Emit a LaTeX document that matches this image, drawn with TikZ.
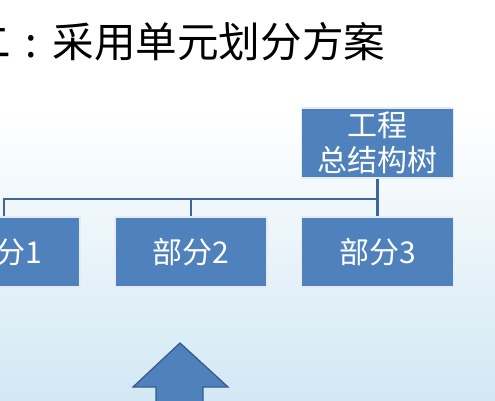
\documentclass[tikz,border=0pt]{standalone}
\usepackage{fontspec}
\setmainfont{Noto Sans CJK SC}
\usetikzlibrary{backgrounds}
\definecolor{boxblue}{RGB}{79,129,189}
\definecolor{linkblue}{RGB}{62,102,155}
\definecolor{edgeblue}{RGB}{56,93,140}
\definecolor{bgblue}{RGB}{210,232,244}
\tikzset{
  part/.style={fill=boxblue, draw=white!85!boxblue, line width=1.5pt,
    minimum width=152pt, minimum height=70pt, inner sep=0pt,
    text=white, font=\fontsize{30}{35}\selectfont, align=center},
  link/.style={draw=linkblue, line width=2.8pt}
}
\begin{document}
\begin{tikzpicture}[x=1pt,y=-1pt]
  \useasboundingbox (0,0) rectangle (495,400);
  \clip (0,0) rectangle (495,400);
  % background: white fading to light blue
  \begin{scope}[on background layer]
    \fill[white] (0,0) rectangle (495,120);
    \shade[top color=white, bottom color=bgblue] (0,110) rectangle (495,400);
  \end{scope}
  % title
  \node[anchor=west, inner sep=0pt, font=\fontsize{41.6}{48}\selectfont]
    (title) at (-31,42) {二\makebox[1em]{:}采用单元划分方案};
  % tree boxes
  \node[part] (root)  at (377.5,143) {工程\\总结构树};
  \node[part] (partA) at (4,252)     {部分1};
  \node[part] (partB) at (191,252)   {部分2};
  \node[part] (partC) at (377.5,252) {部分3};
  % connectors, behind the boxes
  \begin{scope}[on background layer]
    \coordinate (bar) at (377.5,199);
    \draw[link] (root.south) -- (partC.north);
    \draw[link] (partA.north) -- (partA.north |- bar) -- (bar);
    \draw[link] (partB.north) -- (partB.north |- bar);
  \end{scope}
  % block arrow pointing up
  \draw[fill=boxblue, draw=edgeblue, line width=1.3pt, line join=miter]
    (180,343) -- (228,387) -- (203,387) -- (203,410)
    -- (156,410) -- (156,387) -- (133,387) -- cycle;
\end{tikzpicture}
\end{document}
